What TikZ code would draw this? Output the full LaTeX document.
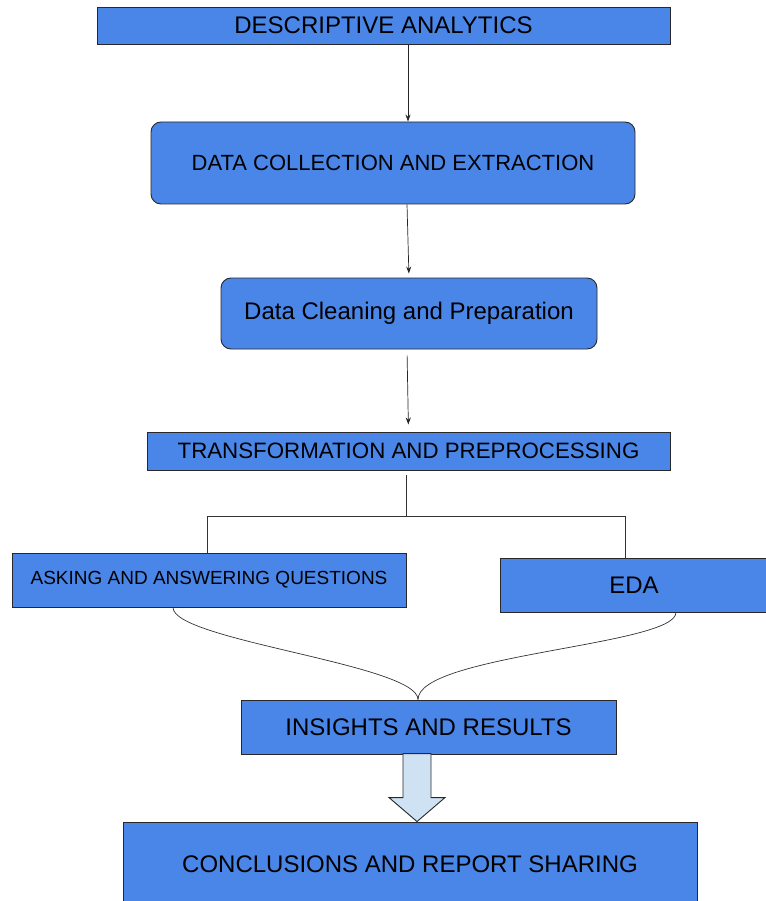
\documentclass[tikz,border=0pt]{standalone}
\usepackage{fontspec}
\setmainfont{Liberation Sans}
\usetikzlibrary{arrows.meta, positioning, calc}
\definecolor{boxblue}{RGB}{74, 134, 232}
\definecolor{paleblue}{RGB}{207, 226, 243}
\definecolor{edgegray}{RGB}{40, 40, 40}

\begin{document}
\begin{tikzpicture}[x=1pt, y=-1pt,
    box/.style={rectangle, draw=edgegray, fill=boxblue, line width=0.9pt, inner sep=0pt, text=black},
    roundbox/.style={box, rounded corners=10pt},
    bigtext/.style={font=\fontsize{24}{28}\selectfont},
    midtext/.style={font=\fontsize{22}{26}\selectfont},
    arr/.style={-{Stealth[length=7pt, width=5pt]}, line width=0.7pt, black!85},
    link/.style={line width=0.7pt, black!80},
    fatarrow/.style={draw=edgegray, fill=paleblue, line width=0.9pt, line join=miter}]
    \useasboundingbox (0,0) rectangle (765,901);

    % top chain
    \node[box, bigtext, minimum width=573pt, minimum height=37pt] (desc) at (383.5,25.5) {DESCRIPTIVE ANALYTICS};
    \node[roundbox, midtext, minimum width=484pt, minimum height=82pt] (collect) at (393,163) {DATA COLLECTION AND EXTRACTION};
    \node[roundbox, bigtext, minimum width=376pt, minimum height=71pt] (clean) at (409,313.5) {Data Cleaning and Preparation};
    \node[box, font=\fontsize{22.3}{26}\selectfont, minimum width=523pt, minimum height=38pt] (transform) at (408.5,451) {TRANSFORMATION AND PREPROCESSING};

    \draw[arr] ([xshift=24.5pt]desc.south) -- ([xshift=15pt]collect.north);
    \draw[arr, shorten >=4pt] ([xshift=14pt]collect.south) -- (clean.north);
    \draw[arr, shorten <=6pt, shorten >=7pt] ([xshift=-2pt]clean.south) -- (transform.north);

    % branches
    \node[box, font=\fontsize{19}{23}\selectfont, minimum width=394pt, minimum height=54pt] (ask) at (209,580) {ASKING AND ANSWERING QUESTIONS};
    \node[box, bigtext, minimum width=268pt, minimum height=54pt] (eda) at (634,585) {EDA};

    \coordinate (split) at (406,516);
    \draw[link] ([xshift=-2.5pt, yshift=-5pt]transform.south) -- (split);
    \draw[link] (split) -| ([xshift=-2pt]ask.north);
    \draw[link] (split) -| ([xshift=-9pt]eda.north);

    % merge
    \node[box, bigtext, minimum width=375pt, minimum height=54pt] (insight) at (428.5,727) {INSIGHTS AND RESULTS};
    \draw[link] ([xshift=-36pt]ask.south) .. controls +(0,33) and +(0,-35) .. ([xshift=-10.5pt]insight.north);
    \draw[link] ([xshift=42pt]eda.south) .. controls +(0,33) and +(0,-45) .. ([xshift=-10.5pt]insight.north);

    % result
    \node[box, bigtext, minimum width=574pt, minimum height=84pt] (conclude) at (410,864) {CONCLUSIONS AND REPORT SHARING};
    \coordinate (tip) at ([xshift=7pt]conclude.north);
    \draw[fatarrow] (tip) -- ++(-28,-24) -- ++(14,0) -- ++(0,-44) -- ++(28,0) -- ++(0,44) -- ++(14,0) -- cycle;
\end{tikzpicture}
\end{document}
